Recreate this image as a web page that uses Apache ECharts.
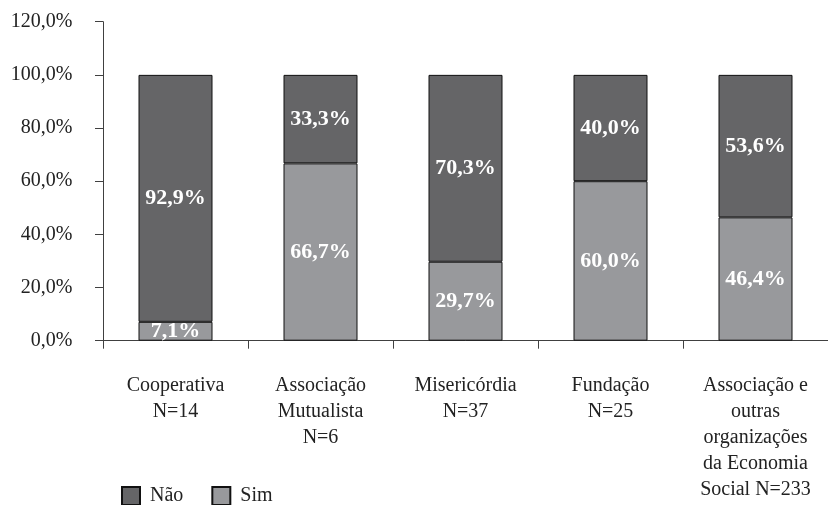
<!DOCTYPE html>
<html>
<head>
<meta charset="utf-8">
<script src="https://cdn.jsdelivr.net/npm/echarts@6/dist/echarts.min.js"></script>
<style>html,body{margin:0;padding:0;background:#fff;}#c{width:828px;height:505px;}</style>
</head>
<body>
<div id="c"></div>
<script>
var categories = ['Cooperativa\nN=14', 'Associação\nMutualista\nN=6', 'Misericórdia\nN=37', 'Fundação\nN=25', 'Associação e\noutras\norganizações\nda Economia\nSocial N=233'];
var simValues = [7.1, 66.7, 29.7, 60.0, 46.4];
var naoValues = [92.9, 33.3, 70.3, 40.0, 53.6];
var yTicks = [0, 20, 40, 60, 80, 100, 120];

var FONT = '"Liberation Serif", "DejaVu Serif", serif';
function pct(v){ return v.toFixed(1).replace('.', ',') + '%'; }

var chart = echarts.init(document.getElementById('c'), null, {renderer: 'canvas'});
var labelStyle = {
  show: true, position: 'inside', color: '#ffffff', fontFamily: FONT,
  fontWeight: 'bold', fontSize: 22,
  formatter: function(p){ return pct(p.value); }
};
chart.setOption({
  animation: false,
  backgroundColor: '#ffffff',
  textStyle: {fontFamily: FONT},
  grid: {left: 103, right: -10, top: 21.7, bottom: 164.3, containLabel: false},
  legend: {
    data: ['Não', 'Sim'], left: 121, top: 486, itemWidth: 18, itemHeight: 18, itemGap: 28,
    icon: 'rect', padding: 0,
    textStyle: {fontFamily: FONT, fontSize: 20, color: '#222', padding: [0,0,0,5]}
  },
  xAxis: {
    type: 'category', data: categories,
    axisLine: {lineStyle: {color: '#404040', width: 1}},
    axisTick: {show: true, length: 8, lineStyle: {color: '#404040'}},
    axisLabel: {fontFamily: FONT, fontSize: 20, color: '#222', lineHeight: 26, margin: 32, interval: 0}
  },
  yAxis: {
    type: 'value', min: 0, max: 120, interval: 20,
    axisLine: {show: true, lineStyle: {color: '#404040', width: 1}},
    axisTick: {show: true, length: 8, lineStyle: {color: '#404040'}},
    splitLine: {show: false},
    axisLabel: {fontFamily: FONT, fontSize: 20, color: '#222', margin: 30.6,
      formatter: function(v){ return yTicks.indexOf(v) >= 0 ? pct(v) : ''; }}
  },
  series: [
    {name: 'Sim', type: 'bar', stack: 's', data: simValues, barWidth: 74,
      itemStyle: {color: '#98999c', borderColor: '#111', borderWidth: 1}, label: labelStyle},
    {name: 'Não', type: 'bar', stack: 's', data: naoValues, barWidth: 74,
      itemStyle: {color: '#656567', borderColor: '#111', borderWidth: 1}, label: labelStyle}
  ]
});
</script>
</body>
</html>
